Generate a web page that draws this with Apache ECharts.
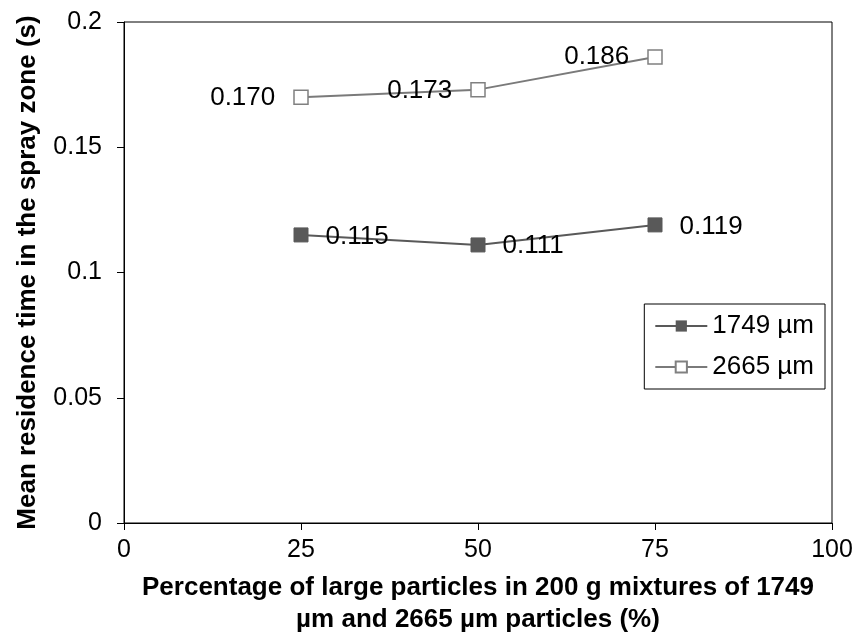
<!DOCTYPE html>
<html>
<head>
<meta charset="utf-8">
<script src="https://cdn.jsdelivr.net/npm/echarts@6/dist/echarts.min.js"></script>
<style>
    html,body{margin:0;padding:0;background:#fff;}
    #chart{width:858px;height:641px;}
</style>
</head>
<body>
<div id="chart"></div>
<script>
var xValues = [25, 50, 75];
var series1749 = [0.115, 0.111, 0.119];
var series2665 = [0.170, 0.173, 0.186];
var xTicks = [0, 25, 50, 75, 100];
var yTicks = [0, 0.05, 0.1, 0.15, 0.2];

// label placement for each point (position, offset)
var labels1749 = [['right', [0, 2]], ['right', [0, 1]], ['right', [0, 2]]];
var labels2665 = [['left', [0, 1]], ['left', [0, 1]], ['left', [0, 0]]];

function buildData(vals, lab) {
    return vals.map(function (v, i) {
        return {
            value: [xValues[i], v],
            label: {position: lab[i][0], offset: lab[i][1]}
        };
    });
}

var chart = echarts.init(document.getElementById('chart'));
var fontFam = 'Liberation Sans, Arial, sans-serif';

var option = {
    animation: false,
    backgroundColor: '#fff',
    textStyle: {fontFamily: fontFam},
    grid: {
        left: 124,
        right: 26,
        top: 22,
        bottom: 116,
        show: true,
        borderColor: '#000',
        borderWidth: 1
    },
    legend: {
        orient: 'vertical',
        right: 33,
        top: 304,
        itemWidth: 52,
        itemHeight: 14,
        itemGap: 15,
        padding: [9, 11, 9, 10],
        borderColor: '#000',
        borderWidth: 1,
        textStyle: {fontSize: 26, color: '#000', fontFamily: fontFam},
        data: ['1749 µm', '2665 µm']
    },
    xAxis: {
        type: 'value',
        min: 0,
        max: 100,
        interval: 25,
        name: 'Percentage of large particles in 200 g mixtures of 1749\nµm and 2665 µm particles (%)',
        nameLocation: 'middle',
        nameGap: 49,
        nameTextStyle: {fontSize: 26, fontWeight: 'bold', color: '#000', lineHeight: 32, fontFamily: fontFam},
        axisLine: {lineStyle: {color: '#000', width: 1}},
        axisTick: {show: true, length: 7, lineStyle: {color: '#000'}},
        axisLabel: {fontSize: 25, color: '#000', margin: 15,
            formatter: function (v) { return xTicks.indexOf(v) >= 0 ? String(v) : ''; }},
        splitLine: {show: false}
    },
    yAxis: {
        type: 'value',
        min: 0,
        max: 0.2,
        interval: 0.05,
        name: 'Mean residence time in the spray zone (s)',
        nameLocation: 'middle',
        nameGap: 83,
        nameTextStyle: {fontSize: 26, fontWeight: 'bold', color: '#000', fontFamily: fontFam},
        axisLine: {show: true, lineStyle: {color: '#000', width: 1}},
        axisTick: {show: true, length: 7, lineStyle: {color: '#000'}},
        axisLabel: {fontSize: 25, color: '#000', margin: 22,
            formatter: function (v) {
                var i = yTicks.indexOf(Math.round(v * 100) / 100);
                return i >= 0 ? String(yTicks[i]) : '';
            }},
        splitLine: {show: false}
    },
    series: [
        {
            name: '1749 µm',
            type: 'line',
            symbol: 'rect',
            symbolSize: 14,
            lineStyle: {color: '#595959', width: 2},
            itemStyle: {color: '#595959', borderColor: '#595959'},
            label: {
                show: true,
                distance: 17,
                fontSize: 26,
                color: '#000',
                formatter: function (p) { return p.value[1].toFixed(3); }
            },
            data: buildData(series1749, labels1749)
        },
        {
            name: '2665 µm',
            type: 'line',
            symbol: 'rect',
            symbolSize: 14,
            lineStyle: {color: '#7a7a7a', width: 2},
            itemStyle: {color: '#ffffff', borderColor: '#808080', borderWidth: 1.5},
            label: {
                show: true,
                distance: 18,
                fontSize: 26,
                color: '#000',
                formatter: function (p) { return p.value[1].toFixed(3); }
            },
            data: buildData(series2665, labels2665)
        }
    ]
};

chart.setOption(option);

window.addEventListener('resize', function () {
    chart.resize();
});
</script>
</body>
</html>
